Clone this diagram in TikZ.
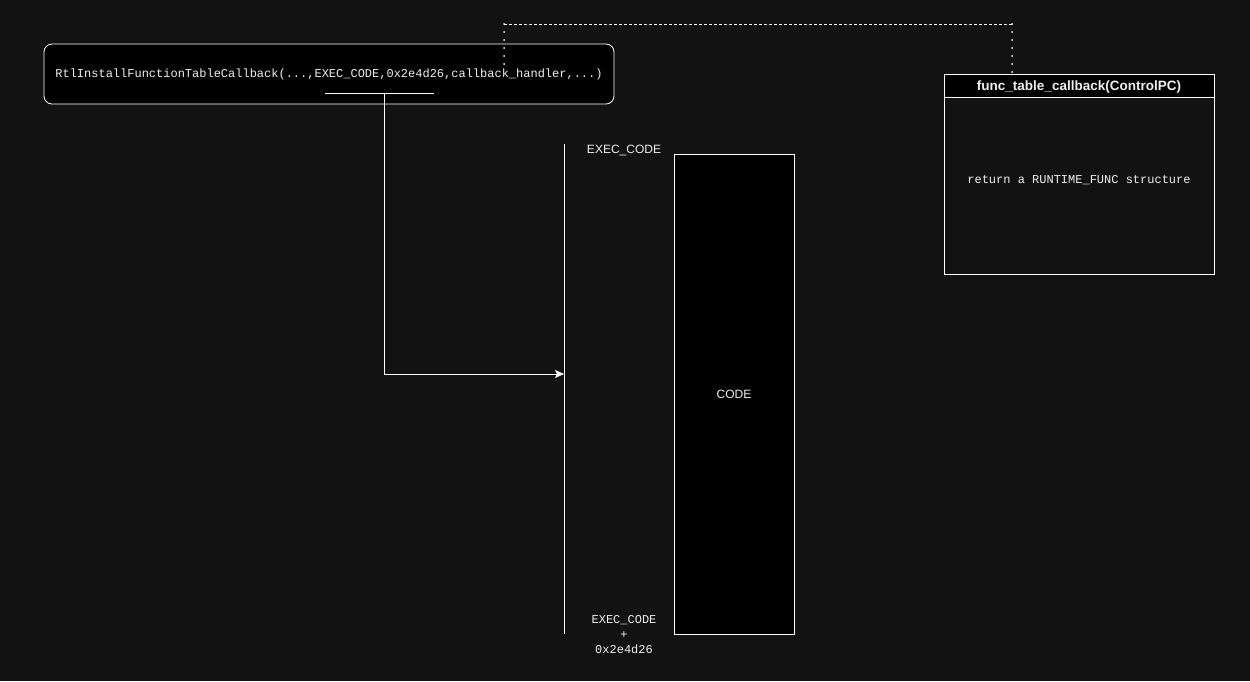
\documentclass[tikz,border=0pt]{standalone}
\usepackage{fontspec}
\setmainfont{Liberation Sans}
\setmonofont{Liberation Mono}
\usetikzlibrary{arrows.meta}
\definecolor{bg}{HTML}{121212}
\definecolor{fg}{HTML}{F0F0F0}
\tikzset{
  box/.style={draw=white, line width=0.8pt, fill=black, inner sep=0pt},
  mono/.style={font=\fontsize{12}{14}\selectfont\ttfamily, text=fg},
  sans/.style={font=\fontsize{12}{14}\selectfont, text=fg},
  wire/.style={draw=white, line width=0.8pt},
  dotwire/.style={draw=white, line width=2pt, dash pattern=on 0pt off 8pt, line cap=round},
  dashwire/.style={draw=white, line width=0.7pt, dash pattern=on 3pt off 2pt},
}
\begin{document}
\begin{tikzpicture}[x=1pt,y=-1pt]
\fill[bg] (0,0) rectangle (1250,681);
\useasboundingbox (0,0) rectangle (1250,681);

% call box
\node[box, rounded corners=8pt, minimum width=570pt, minimum height=60pt, mono] (call) at (329,74)
  {RtlInstallFunctionTableCallback(...,EXEC\_CODE,0x2e4d26,callback\_handler,...)};
\coordinate (ulL) at (325,93);
\coordinate (ulR) at (434,93);
\draw[wire] (ulL) -- (ulR);
\coordinate (ulM) at (384,93);

% memory line
\coordinate (vtop) at (564,144);
\coordinate (vbot) at (564,634);
\coordinate (vmid) at (564,374);
\draw[wire] (vtop) -- (vbot);
\draw[wire, -{Stealth[length=9pt,width=8pt,inset=2pt]}] (ulM) |- (vmid);

\node[sans] (execlbl) at (624,150) {EXEC\_CODE};
\node[mono, align=center, font=\fontsize{12}{15}\selectfont\ttfamily] (endlbl) at (624,635) {EXEC\_CODE\\+\\0x2e4d26};

% code block
\node[box, minimum width=120pt, minimum height=480pt, sans] (code) at (734,394) {CODE};

% callback box
\node[draw=white, line width=0.8pt, minimum width=270pt, minimum height=200pt] (cb) at (1079,174) {};
\node[box, minimum width=270pt, minimum height=23pt, anchor=north, text=fg] (cbhead) at (cb.north) {};
\node[font=\fontsize{13.5}{15}\selectfont\bfseries, text=fg] (cbtitle) at ([yshift=-1.5pt]cbhead.center) {func\_table\_callback(ControlPC)};
\node[mono] (cbtext) at (1079,180) {return a RUNTIME\_FUNC structure};

% dotted / dashed link
\coordinate (d1) at (504,64);
\coordinate (d2) at (504,24);
\coordinate (d3) at (1012,24);
\coordinate (d4) at (1012,74);
\draw[dotwire] (d1) -- (d2);
\draw[dashwire] (d2) -- (d3);
\draw[dotwire] (d3) -- (cbhead.north -| d4);
\end{tikzpicture}
\end{document}
